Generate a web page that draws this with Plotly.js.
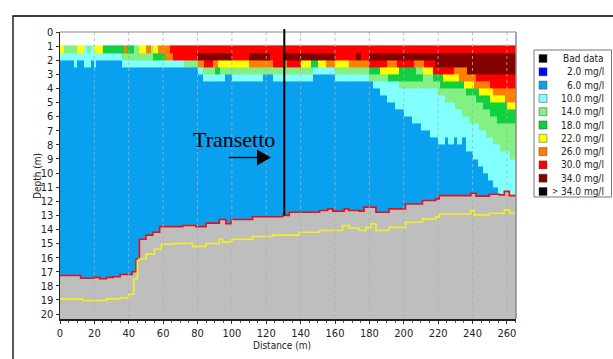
<!DOCTYPE html>
<html><head><meta charset="utf-8">
<script src="https://cdn.plot.ly/plotly-3.0.1.min.js"></script>
<style>html,body{margin:0;padding:0;background:#fff}#chart{width:613px;height:359px}</style>
</head><body><div id="chart"></div>
<script>
// ---- class definitions (legend) ----
const classCodes  = ['X','B','S','C','L','G','Y','O','R','D','K'];
const classColors = ['#000000','#0000ff','#0aa0f0','#82ffff','#82f082','#10d040','#ffff00','#ff8000','#ff0000','#820000','#000000'];
const legendLabels = ['Bad data','2.0 mg/l','6.0 mg/l','10.0 mg/l','14.0 mg/l','18.0 mg/l','22.0 mg/l','26.0 mg/l','30.0 mg/l','34.0 mg/l','34.0 mg/l'];
const legendPrefix = ['','','','','','','','','','','>'];

// ---- concentration section: row tops (m) and runs "class+endDistance" ----
const rowTops = [0.95,1.5,2.0,2.5,3.0,3.5,4.0,4.5,5.0,5.5,6.0,6.5,7.0,7.5,8.0,8.5,9.0,9.5,10.0,10.5,11.0,11.5,12.0];
const sectionBottom = 20.35;
const rowRuns = [
 'Y2.5 L10 Y14 C15.5 L18 C19.5 Y25 G37 O39 G43 L46 Y50 O53 L54 Y57 O64 R265.3',
 'C36 L54 G61 O66 R80 D100 R110 D122 R130 D160 R172 D175 R180 D265.3',
 'S8 C10 S14 C18 S19.5 C21 S36 C72 L80 O84 R89 O92 Y110 O124 R130 O132 R140 Y146 G150 Y155 O160 Y168 O180 R190 O196 R206 O212 R218 D265.3',
 'S80 C83 L90 G93 L147 C160 L180 G186 Y197 G207 L211 Y217 R229 O237 D265.3',
 'S83 C96 S100 C118 S124 C147 S160 C180 L191 G211 L217 G223 Y232 O242 R265.3',
 'S182 C197 L221 G235 Y241 O250 R265.3',
 'S186 C220 L236 G244 Y252 O265.3',
 'S190 C224 L242 G250 Y259 O265.3',
 'S195 C230 L246 G260 Y265.3',
 'S200 C234 L250 G265.3',
 'S205 C238 L254 G265.3',
 'S210 C244 L265.3',
 'S215 C248 L265.3',
 'S220 C224 S226 C229 S231 C234 S236 C252 L265.3',
 'S236 C256 L265.3',
 'S240 C262 L265.3',
 'S243 C265.3',
 'S246 C265.3',
 'S249 C265.3',
 'S252 C265.3',
 'S255 C265.3',
 'S258 C265.3',
 'S261 C265.3'
];

// ---- seabed (red) and sub-bottom (yellow) lines ----
const seabedX = [0,12,20,23,27,31,35,42,44.3,46.2,50,54,58,71.4,79,85,92.7,96.5,99.5,112,129.6,133.4,151,155.7,158.7,165.4,168,174,176.9,183.8,191.4,201,210.9,218.6,220.6,239,242,249.8,255.6,258.5,261.4,265.3];
const seabedD = [17.27,17.46,17.4,17.5,17.4,17.35,17.2,17.0,16.1,14.7,14.4,14.2,13.8,13.72,13.8,13.55,13.3,13.6,13.3,13.1,13.0,12.78,12.66,12.54,12.7,12.54,12.66,12.7,12.42,12.78,12.54,12.2,11.95,11.83,11.6,11.43,11.64,11.5,11.55,11.3,11.6,11.6];
const subX = [0,13,27,35,40,43,45,46,50,55,59,66,73,77,85,92.7,94.6,100,112,123.6,139,151,164.4,168.3,174,177.9,180.8,183.8,191.4,201,210.9,218.6,220.6,239,241,249.8,258.5,261.4,265.3];
const subD = [18.92,19.04,18.92,18.85,18.6,17.5,16.2,16.1,15.75,15.4,15.04,15.0,14.98,15.2,15.0,14.7,14.9,14.7,14.5,14.4,14.2,14.08,13.72,13.9,14.08,13.85,13.6,14.08,13.85,13.49,13.25,13.13,12.9,12.66,12.97,12.85,12.61,12.83,12.83];

const transectX = 130.5, transectBottom = 13.0;
const xTicks = [0,20,40,60,80,100,120,140,160,180,200,220,240,260];
const yTicks = [0,1,2,3,4,5,6,7,8,9,10,11,12,13,14,15,16,17,18,19,20];
const xMax = 265.3;

// ---- build heatmap grid from runs ----
const parsed = rowRuns.map(r => r.split(' ').map(t => ({c: t[0], e: parseFloat(t.slice(1))})));
let edgeSet = new Set([0]);
parsed.forEach(row => row.forEach(run => edgeSet.add(run.e)));
edgeSet.add(xMax);
const xEdges = Array.from(edgeSet).sort((a,b)=>a-b);
const yEdges = rowTops.concat([sectionBottom]);
const z = parsed.map(row => {
  const out = [];
  for (let i = 0; i < xEdges.length-1; i++) {
    const xc = (xEdges[i]+xEdges[i+1])/2;
    let code = 'S';
    for (const run of row) { if (xc < run.e) { code = run.c; break; } }
    out.push(classCodes.indexOf(code));
  }
  return out;
});
const n = classCodes.length;
const cs = [];
classColors.forEach((col,i) => { cs.push([i/n, col]); cs.push([(i+1)/n, col]); });

const plotL = 60, plotR = 516, plotT = 32, plotB = 319;
const px = v => (v - plotL)/(plotR - plotL);
const py = v => (plotB - v)/(plotB - plotT);
const dx = v => (v - plotL)/(plotR - plotL)*xMax;
const dy = v => (v - plotT)/(plotB - plotT)*sectionBottom;

const traces = [
  {type:'heatmap', x:xEdges, y:yEdges, z:z, zmin:-0.5, zmax:n-0.5, colorscale:cs, showscale:false, hoverinfo:'skip', zsmooth:false},
  {type:'scatter', x:[0,xMax], y:[sectionBottom+0.5, sectionBottom+0.5], mode:'lines', line:{width:0}, hoverinfo:'skip', showlegend:false},
  {type:'scatter', x:seabedX, y:seabedD, mode:'lines', line:{color:'#e81010', width:1.6, shape:'hv'}, fill:'tonexty', fillcolor:'#bebebe', hoverinfo:'skip', showlegend:false},
  {type:'scatter', x:subX, y:subD, mode:'lines', line:{color:'#f2f020', width:1.6, shape:'hv'}, hoverinfo:'skip', showlegend:false}
];

const shapes = [];
// grid lines
xTicks.slice(1).forEach(xv => shapes.push({type:'line', xref:'x', yref:'y', x0:xv, x1:xv, y0:0, y1:sectionBottom, line:{color:'rgba(175,175,175,0.8)', width:1, dash:'dot'}, layer:'above'}));
// top and right frame of plot area (grey)
shapes.push({type:'line', xref:'paper', yref:'paper', x0:0, x1:1, y0:1, y1:1, line:{color:'#888', width:1.2}});
shapes.push({type:'line', xref:'paper', yref:'paper', x0:1, x1:1, y0:0, y1:1, line:{color:'#888', width:1.5}});
// transect line
shapes.push({type:'line', xref:'x', yref:'paper', x0:transectX, x1:transectX, y0:(sectionBottom-transectBottom)/sectionBottom, y1:py(29), line:{color:'#000', width:2}});
// arrow
shapes.push({type:'line', xref:'x', yref:'y', x0:dx(229), x1:dx(260), y0:dy(157.5), y1:dy(157.5), line:{color:'#000', width:1.3}});
shapes.push({type:'path', xref:'x', yref:'y', path:`M ${dx(257)} ${dy(149.5)} L ${dx(271)} ${dy(157.5)} L ${dx(257)} ${dy(165.5)} Z`, fillcolor:'#000', line:{width:0}});
// outer frame
shapes.push({type:'rect', xref:'paper', yref:'paper', x0:px(13), y0:py(400), x1:px(700), y1:py(16), line:{color:'#000', width:1.3}});
// legend box
shapes.push({type:'rect', xref:'paper', yref:'paper', x0:px(534), x1:px(611.5), y0:py(197), y1:py(50), line:{color:'#777', width:1}, fillcolor:'#fff'});

const annotations = [];
const narrow = 'Liberation Sans Narrow, DejaVu Sans Condensed, sans-serif';
legendLabels.forEach((lab,i) => {
  const cy = 58.5 + i*13.3;
  shapes.push({type:'rect', xref:'paper', yref:'paper', x0:px(539), x1:px(547), y0:py(cy+4), y1:py(cy-4), fillcolor:classColors[i], line:{color:'#444', width:0.5}});
  annotations.push({xref:'paper', yref:'paper', x:px(606), y:py(cy), text:lab, showarrow:false, xanchor:'right', yanchor:'middle', font:{family:narrow, size:10, color:'#222'}});
  if (legendPrefix[i]) annotations.push({xref:'paper', yref:'paper', x:px(555), y:py(cy), text:legendPrefix[i], showarrow:false, xanchor:'center', yanchor:'middle', font:{family:narrow, size:8, color:'#222'}});
});
annotations.push({xref:'paper', yref:'paper', x:px(282), y:py(346), text:'Distance (m)', showarrow:false, xanchor:'center', yanchor:'middle', font:{family:narrow, size:10, color:'#222'}});
annotations.push({xref:'paper', yref:'paper', x:px(37), y:py(176), text:'Depth (m)', textangle:-90, showarrow:false, xanchor:'center', yanchor:'middle', font:{family:narrow, size:10, color:'#222'}});
annotations.push({xref:'x', yref:'y', x:dx(233.5), y:dy(139), text:'Transetto', showarrow:false, xanchor:'center', yanchor:'middle', font:{family:'Liberation Serif, Times New Roman, serif', size:22, color:'#000'}});

const tickFont = {family:narrow, size:11, color:'#222'};
const layout = {
  width:613, height:359,
  margin:{l:plotL, r:613-plotR, t:plotT, b:359-plotB, pad:0},
  paper_bgcolor:'#fff', plot_bgcolor:'#fff',
  showlegend:false,
  xaxis:{range:[0,xMax], tickvals:xTicks, ticktext:xTicks.map(String), showgrid:false, zeroline:false, ticks:'outside', ticklen:3, tickcolor:'#333', showline:true, linecolor:'#222', linewidth:1.5, mirror:false, tickfont:tickFont, layer:'above traces', minor:{dtick:5, tick0:0, ticks:'outside', ticklen:2, tickcolor:'#555'}},
  yaxis:{range:[sectionBottom,0], tickvals:yTicks, ticktext:yTicks.map(String), showgrid:false, zeroline:false, ticks:'outside', ticklen:3, tickcolor:'#333', showline:true, linecolor:'#222', linewidth:1.5, mirror:false, tickfont:tickFont, layer:'above traces'},
  shapes:shapes, annotations:annotations
};
Plotly.newPlot('chart', traces, layout, {staticPlot:true, displayModeBar:false});
</script></body></html>
